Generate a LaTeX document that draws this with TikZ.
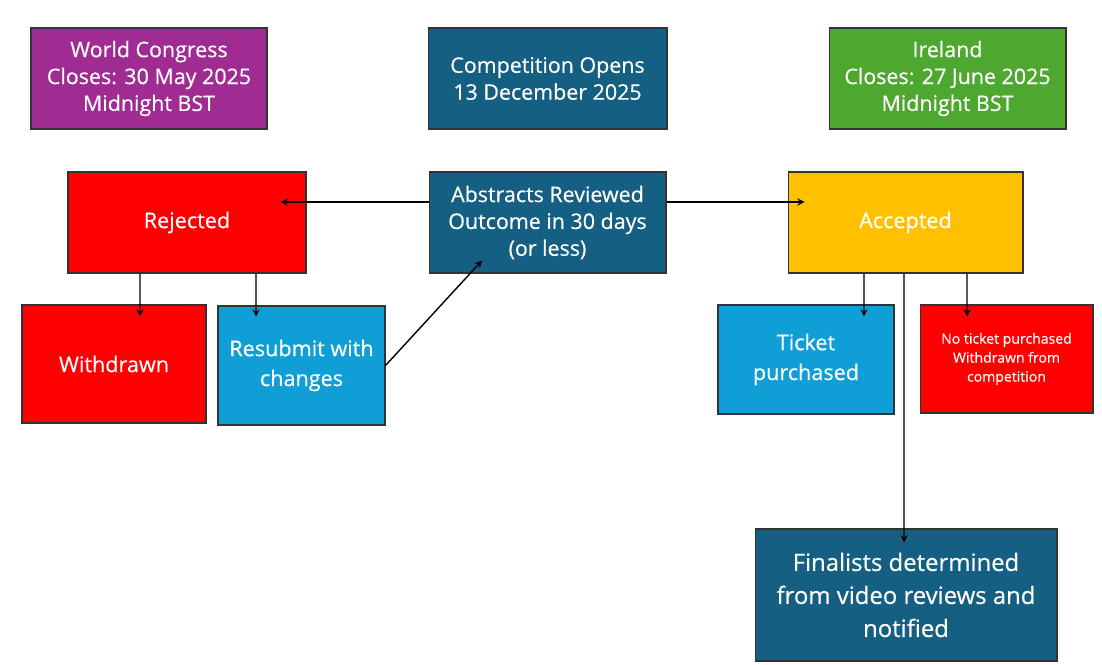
\documentclass[tikz,border=0pt]{standalone}
\usepackage{fontspec}
\setmainfont{Open Sans}[FakeBold=0.4]
\usepackage{tikz}

\definecolor{congress}{HTML}{A02B93}
\definecolor{tealblue}{HTML}{156082}
\definecolor{irlgreen}{HTML}{4EA72E}
\definecolor{skyblue}{HTML}{0F9ED5}
\definecolor{rejred}{HTML}{FF0000}
\definecolor{amber}{HTML}{FFC000}

\begin{document}
\begin{tikzpicture}[x=0.02cm,y=-0.02cm,line width=0.8pt,>=stealth,
  box/.style={draw=black!80,line width=0.6pt,text=white,align=center,inner sep=2pt},
  big/.style={font=\fontsize{12.2}{15.3}\selectfont},
  mid/.style={font=\fontsize{12.3}{17}\selectfont},
  small/.style={font=\fontsize{8}{10.8}\selectfont}]

\useasboundingbox (0,0) rectangle (1102,665);

% top row
\node [box,big,fill=congress,minimum width=4.72cm,minimum height=2.02cm] (wcongress) at (149,78.5)
  {World Congress\\Closes: 30 May 2025\\Midnight BST};
\node [box,big,fill=tealblue,minimum width=4.78cm,minimum height=2.02cm] (opens) at (547.5,78.5)
  {Competition Opens\\13 December 2025};
\node [box,big,fill=irlgreen,minimum width=4.74cm,minimum height=2.02cm] (ireland) at (947.5,78.5)
  {Ireland\\Closes: 27 June 2025\\Midnight BST};

% review row
\node [box,mid,fill=rejred,minimum width=4.76cm,minimum height=2.02cm] (rejected) at (187,222.5) {Rejected};
\node [box,big,fill=tealblue,minimum width=4.74cm,minimum height=2.02cm] (review) at (547.5,222.5)
  {Abstracts Reviewed\\Outcome in 30 days\\(or less)};
\node [box,mid,fill=amber,minimum width=4.70cm,minimum height=2.02cm] (accepted) at (905.5,222.5) {Accepted};

% outcomes
\node [box,mid,fill=rejred,minimum width=3.68cm,minimum height=2.36cm] (withdrawn) at (114,364) {Withdrawn};
\node [box,mid,fill=skyblue,minimum width=3.34cm,minimum height=2.38cm] (resubmit) at (301.5,365.5)
  {Resubmit with\\changes};
\node [box,mid,fill=skyblue,minimum width=3.52cm,minimum height=2.18cm] (ticket) at (806,359.5)
  {Ticket\\purchased};
\node [box,small,fill=rejred,minimum width=3.46cm,minimum height=2.16cm] (noticket) at (1006.5,359)
  {No ticket purchased\\Withdrawn from\\competition};

\node [box,font=\fontsize{13.6}{18.8}\selectfont,fill=tealblue,minimum width=6.04cm,minimum height=2.64cm] (finalists) at (906,595)
  {Finalists determined\\from video reviews and\\notified};

% connectors
\draw[->]  ([yshift=0.41cm]review.west)  --  ([xshift=-0.52cm,yshift=0.41cm]rejected.east);
\draw[->]  ([yshift=0.41cm]review.east)  --  ([xshift=0.34cm,yshift=0.41cm]accepted.west);

\draw[->]  ([xshift=-0.94cm]rejected.south)  --  ([xshift=0.52cm,yshift=-0.24cm]withdrawn.north);
\draw[->]  ([xshift=1.38cm]rejected.south)  --  ([xshift=-0.91cm,yshift=-0.22cm]resubmit.north);
\draw[->]  (resubmit.east)  --  ([xshift=-1.31cm,yshift=0.26cm]review.south);

\draw[->]  ([xshift=-0.83cm]accepted.south)  --  ([xshift=1.16cm,yshift=-0.24cm]ticket.north);
\draw[->]  ([xshift=1.23cm]accepted.south)  --  ([xshift=-0.79cm,yshift=-0.24cm]noticket.north);
\draw[->]  ([xshift=-0.03cm]accepted.south)  --  ([xshift=-0.04cm,yshift=-0.28cm]finalists.north);

\end{tikzpicture}
\end{document}
